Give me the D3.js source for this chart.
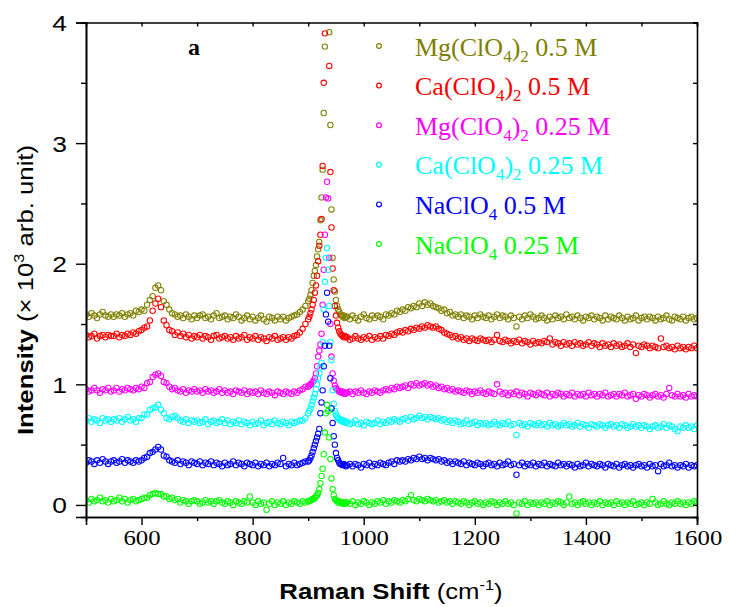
<!DOCTYPE html>
<html>
<head>
<meta charset="utf-8">
<script src="https://cdn.jsdelivr.net/npm/d3@7"></script>
<style>
  body { margin: 0; background: #fff; }
</style>
</head>
<body>
<svg id="chart" width="729" height="607"></svg>
<script>
// Raman shift sampling (cm^-1): 5 cm^-1 steps, 2 cm^-1 steps across the ClO4- band
const shift = [...d3.range(500, 901, 5), ...d3.range(902, 969, 2), ...d3.range(970, 1601, 5)];

// Intensities (x 10^3 arb. unit), one value per entry of `shift`
const mgClO4_05 = [
  1.58,1.56,1.59,1.57,1.55,1.58,1.60,1.57,1.56,1.58,
  1.56,1.58,1.57,1.59,1.56,1.58,1.59,1.57,1.61,1.60,
  1.62,1.61,1.66,1.70,1.73,1.80,1.82,1.78,1.69,1.66,
  1.62,1.59,1.58,1.56,1.57,1.55,1.58,1.56,1.54,1.57,
  1.55,1.57,1.58,1.55,1.56,1.54,1.57,1.59,1.55,1.56,
  1.57,1.54,1.56,1.55,1.58,1.56,1.53,1.55,1.57,1.54,
  1.56,1.53,1.55,1.57,1.54,1.52,1.56,1.55,1.53,1.56,
  1.54,1.56,1.53,1.55,1.56,1.57,1.58,1.60,1.62,1.65,
  1.69,
  1.71,1.74,1.78,1.84,1.90,1.94,1.99,2.06,2.12,2.18,
  2.36,2.55,2.78,3.25,3.80,4.40,4.70,4.30,3.92,3.15,
  2.45,2.05,1.87,1.77,1.70,1.65,1.62,1.60,1.58,1.57,
  1.56,1.57,1.55,1.56,
  1.56,1.54,1.57,1.55,1.53,1.56,1.58,1.55,1.54,1.57,
  1.55,1.57,1.56,1.54,1.58,1.57,1.59,1.58,1.61,1.60,
  1.62,1.61,1.64,1.63,1.65,1.64,1.67,1.65,1.68,1.66,
  1.67,1.65,1.64,1.63,1.61,1.62,1.59,1.60,1.57,1.58,
  1.56,1.58,1.55,1.57,1.56,1.54,1.57,1.55,1.58,1.56,
  1.55,1.57,1.54,1.56,1.58,1.55,1.57,1.56,1.54,1.57,
  1.55,1.48,1.56,1.54,1.57,1.55,1.58,1.56,1.54,1.55,
  1.57,1.55,1.53,1.56,1.54,1.57,1.55,1.56,1.54,1.58,
  1.55,1.56,1.54,1.57,1.55,1.53,1.56,1.55,1.57,1.54,
  1.56,1.55,1.53,1.57,1.54,1.56,1.55,1.54,1.57,1.55,
  1.53,1.56,1.54,1.55,1.57,1.53,1.55,1.56,1.54,1.56,
  1.55,1.53,1.56,1.54,1.55,1.57,1.54,1.53,1.56,1.55,
  1.54,1.56,1.53,1.55,1.56,1.54,1.55
];

const caClO4_05 = [
  1.41,1.39,1.40,1.42,1.38,1.40,1.41,1.39,1.41,1.40,
  1.40,1.42,1.39,1.41,1.40,1.42,1.41,1.43,1.42,1.44,
  1.45,1.47,1.48,1.53,1.61,1.67,1.71,1.64,1.53,1.49,
  1.45,1.44,1.41,1.43,1.40,1.42,1.39,1.41,1.38,1.40,
  1.39,1.41,1.38,1.40,1.39,1.37,1.40,1.41,1.38,1.39,
  1.40,1.38,1.39,1.37,1.40,1.38,1.39,1.41,1.37,1.39,
  1.38,1.40,1.37,1.39,1.38,1.36,1.39,1.38,1.40,1.37,
  1.38,1.39,1.37,1.39,1.38,1.40,1.41,1.43,1.46,1.50,
  1.54,
  1.56,1.59,1.62,1.66,1.70,1.76,1.82,1.90,2.02,2.15,
  2.24,2.37,2.81,3.50,3.91,4.50,4.80,4.20,3.64,2.76,
  2.30,1.96,1.78,1.65,1.57,1.51,1.47,1.44,1.42,1.41,
  1.40,1.39,1.40,1.39,
  1.39,1.37,1.38,1.40,1.38,1.37,1.39,1.38,1.40,1.37,
  1.39,1.38,1.40,1.38,1.41,1.40,1.42,1.41,1.43,1.44,
  1.43,1.45,1.44,1.46,1.45,1.47,1.46,1.48,1.47,1.49,
  1.48,1.47,1.48,1.46,1.45,1.43,1.42,1.41,1.39,1.40,
  1.38,1.39,1.37,1.38,1.36,1.38,1.37,1.36,1.38,1.37,
  1.36,1.37,1.35,1.37,1.41,1.36,1.35,1.37,1.36,1.34,
  1.36,1.35,1.37,1.34,1.36,1.35,1.33,1.36,1.34,1.35,
  1.34,1.36,1.35,1.38,1.33,1.35,1.34,1.32,1.35,1.33,
  1.34,1.32,1.35,1.33,1.34,1.32,1.33,1.35,1.32,1.34,
  1.33,1.31,1.34,1.32,1.33,1.31,1.34,1.32,1.33,1.31,
  1.32,1.34,1.31,1.33,1.26,1.32,1.31,1.33,1.32,1.30,
  1.32,1.31,1.30,1.38,1.31,1.32,1.30,1.31,1.29,1.32,
  1.30,1.31,1.29,1.31,1.30,1.32,1.30
];

const mgClO4_025 = [
  0.96,0.94,0.95,0.97,0.95,0.93,0.96,0.95,0.97,0.94,
  0.95,0.97,0.94,0.96,0.95,0.97,0.96,0.95,0.97,0.96,
  0.98,0.97,1.01,1.02,1.06,1.08,1.09,1.07,1.02,1.01,
  0.98,0.96,0.97,0.95,0.94,0.96,0.93,0.95,0.94,0.96,
  0.94,0.95,0.93,0.96,0.94,0.95,0.93,0.94,0.96,0.93,
  0.95,0.93,0.94,0.92,0.95,0.94,0.93,0.95,0.92,0.94,
  0.93,0.94,0.92,0.95,0.93,0.92,0.94,0.93,0.91,0.94,
  0.93,0.92,0.94,0.93,0.92,0.94,0.93,0.95,0.96,0.98,
  0.98,
  0.99,1.00,1.00,1.02,1.03,1.05,1.09,1.15,1.23,1.28,
  1.33,1.42,1.66,1.95,2.24,2.55,2.68,2.54,2.05,1.50,
  1.23,1.09,1.03,0.99,0.97,0.96,0.95,0.94,0.94,0.93,
  0.94,0.93,0.92,0.93,
  0.93,0.94,0.92,0.94,0.93,0.95,0.93,0.92,0.94,0.93,
  0.95,0.94,0.93,0.95,0.96,0.95,0.97,0.96,0.98,0.97,
  0.98,0.99,0.97,1.00,0.99,1.01,0.99,1.00,1.01,0.99,
  1.00,0.98,0.99,0.97,0.98,0.96,0.97,0.95,0.96,0.94,
  0.95,0.94,0.93,0.95,0.94,0.92,0.94,0.93,0.95,0.93,
  0.92,0.94,0.93,0.92,1.00,0.94,0.92,0.93,0.91,0.93,
  0.92,0.94,0.91,0.93,0.92,0.90,0.93,0.92,0.91,0.93,
  0.92,0.91,0.93,0.90,0.92,0.91,0.93,0.92,0.90,0.92,
  0.91,0.93,0.90,0.92,0.91,0.92,0.90,0.93,0.91,0.92,
  0.90,0.92,0.91,0.93,0.90,0.91,0.92,0.90,0.92,0.91,
  0.93,0.90,0.91,0.92,0.88,0.91,0.90,0.92,0.91,0.89,
  0.91,0.92,0.90,0.91,0.89,0.92,0.97,0.91,0.90,0.92,
  0.90,0.91,0.89,0.92,0.90,0.91,0.90
];

const caClO4_025 = [
  0.70,0.72,0.69,0.71,0.70,0.68,0.72,0.70,0.71,0.69,
  0.71,0.70,0.72,0.69,0.71,0.73,0.70,0.71,0.69,0.72,
  0.72,0.75,0.75,0.79,0.80,0.81,0.83,0.79,0.76,0.72,
  0.71,0.73,0.74,0.72,0.70,0.69,0.71,0.68,0.70,0.69,
  0.70,0.68,0.69,0.71,0.67,0.69,0.70,0.68,0.69,0.71,
  0.68,0.70,0.67,0.69,0.68,0.70,0.67,0.69,0.68,0.66,
  0.69,0.67,0.68,0.70,0.66,0.68,0.69,0.67,0.70,0.68,
  0.67,0.69,0.68,0.66,0.69,0.68,0.69,0.70,0.70,0.72,
  0.76,
  0.78,0.80,0.83,0.86,0.89,0.92,0.96,1.00,1.05,1.09,
  1.14,1.18,1.35,1.62,1.85,2.05,2.13,1.95,1.65,1.35,
  1.20,0.95,0.84,0.78,0.75,0.73,0.72,0.71,0.70,0.70,
  0.69,0.70,0.69,0.68,
  0.69,0.67,0.68,0.70,0.67,0.68,0.66,0.69,0.68,0.67,
  0.68,0.70,0.67,0.69,0.68,0.70,0.69,0.71,0.70,0.69,
  0.71,0.72,0.70,0.73,0.71,0.72,0.74,0.72,0.73,0.71,
  0.73,0.72,0.71,0.72,0.70,0.71,0.69,0.70,0.68,0.70,
  0.69,0.67,0.68,0.70,0.67,0.68,0.69,0.66,0.68,0.67,
  0.68,0.66,0.67,0.69,0.67,0.66,0.68,0.67,0.69,0.66,
  0.67,0.58,0.68,0.66,0.67,0.65,0.68,0.67,0.66,0.68,
  0.66,0.67,0.65,0.68,0.66,0.67,0.65,0.66,0.68,0.66,
  0.67,0.65,0.66,0.68,0.65,0.67,0.66,0.64,0.67,0.66,
  0.65,0.67,0.66,0.64,0.66,0.67,0.65,0.66,0.64,0.67,
  0.66,0.64,0.65,0.67,0.65,0.66,0.64,0.66,0.65,0.63,
  0.65,0.66,0.64,0.65,0.67,0.64,0.66,0.65,0.63,0.61,
  0.65,0.64,0.66,0.64,0.65,0.63,0.66
];

const naClO4_05 = [
  0.35,0.37,0.36,0.34,0.37,0.35,0.38,0.36,0.34,0.36,
  0.37,0.35,0.36,0.38,0.35,0.37,0.36,0.35,0.37,0.36,
  0.37,0.39,0.40,0.43,0.44,0.46,0.48,0.46,0.41,0.40,
  0.37,0.36,0.35,0.37,0.34,0.36,0.35,0.33,0.36,0.35,
  0.34,0.36,0.33,0.35,0.34,0.36,0.33,0.35,0.34,0.32,
  0.35,0.33,0.34,0.36,0.33,0.35,0.34,0.32,0.35,0.34,
  0.33,0.35,0.32,0.34,0.33,0.35,0.32,0.34,0.33,0.35,
  0.34,0.39,0.32,0.34,0.33,0.35,0.33,0.34,0.35,0.36,
  0.36,
  0.37,0.39,0.41,0.44,0.47,0.50,0.53,0.56,0.59,0.63,
  0.76,0.85,0.95,1.15,1.32,1.58,1.76,1.52,1.32,1.05,
  0.80,0.68,0.57,0.50,0.43,0.39,0.37,0.35,0.34,0.34,
  0.33,0.34,0.33,0.32,
  0.33,0.34,0.32,0.34,0.33,0.31,0.34,0.33,0.35,0.32,
  0.34,0.33,0.35,0.34,0.33,0.35,0.36,0.34,0.37,0.36,
  0.37,0.36,0.38,0.37,0.39,0.38,0.40,0.38,0.39,0.37,
  0.39,0.38,0.37,0.38,0.36,0.37,0.35,0.36,0.34,0.36,
  0.35,0.34,0.36,0.33,0.35,0.34,0.33,0.35,0.34,0.32,
  0.34,0.35,0.33,0.34,0.32,0.35,0.33,0.34,0.36,0.33,
  0.34,0.25,0.33,0.35,0.32,0.34,0.33,0.35,0.32,0.34,
  0.33,0.35,0.32,0.34,0.33,0.32,0.35,0.33,0.34,0.32,
  0.34,0.33,0.31,0.34,0.32,0.33,0.35,0.32,0.34,0.33,
  0.32,0.34,0.33,0.31,0.34,0.33,0.32,0.34,0.31,0.33,
  0.34,0.32,0.33,0.31,0.33,0.34,0.32,0.33,0.31,0.34,
  0.32,0.33,0.28,0.34,0.32,0.33,0.35,0.32,0.33,0.31,
  0.33,0.32,0.34,0.31,0.33,0.32,0.33
];

const naClO4_025 = [
  0.04,0.02,0.05,0.03,0.04,0.06,0.03,0.04,0.02,0.05,
  0.03,0.04,0.06,0.03,0.05,0.02,0.04,0.05,0.03,0.04,
  0.05,0.06,0.06,0.08,0.09,0.10,0.09,0.09,0.07,0.07,
  0.05,0.06,0.04,0.05,0.02,0.04,0.03,0.01,0.03,0.04,
  0.03,0.01,0.02,0.04,0.02,0.03,0.01,0.03,0.04,0.02,
  0.01,0.03,0.02,0.00,0.03,0.02,0.01,0.03,0.02,0.07,
  0.02,0.00,0.03,0.01,0.02,-0.04,0.01,0.03,0.00,0.02,
  0.01,0.03,0.00,0.02,0.01,0.03,0.02,0.01,0.03,0.02,
  0.03,
  0.03,0.04,0.04,0.05,0.05,0.06,0.07,0.08,0.10,0.13,
  0.18,0.24,0.30,0.42,0.60,0.76,0.83,0.78,0.56,0.38,
  0.22,0.13,0.08,0.05,0.04,0.03,0.02,0.03,0.02,0.02,
  0.01,0.02,0.01,0.02,
  0.02,0.01,0.03,0.00,0.02,0.01,0.03,0.02,0.00,0.02,
  0.01,0.03,0.02,0.04,0.01,0.03,0.02,0.04,0.03,0.02,
  0.04,0.03,0.05,0.08,0.04,0.03,0.05,0.04,0.03,0.05,
  0.04,0.03,0.04,0.02,0.03,0.04,0.02,0.03,0.01,0.03,
  0.02,0.01,0.03,0.02,0.00,0.02,0.03,0.01,0.02,0.00,
  0.02,0.01,0.03,0.02,0.00,0.02,0.01,0.03,0.01,0.02,
  0.00,-0.07,0.02,0.01,0.03,0.00,0.02,0.01,0.02,0.00,
  0.02,0.01,0.03,0.00,0.02,0.01,0.03,0.02,0.00,0.02,
  0.07,0.01,0.02,0.00,0.02,0.03,0.01,0.02,0.00,0.02,
  0.01,0.03,0.00,0.02,0.01,0.02,0.00,0.03,0.01,0.02,
  0.00,0.02,0.01,0.03,0.00,0.01,0.02,0.00,0.02,0.01,
  0.05,0.02,0.00,0.01,0.03,0.01,0.00,0.02,0.01,0.03,
  0.01,0.02,0.00,0.02,0.01,0.03,0.02
];

const seriesNames = ["Mg(ClO4)2 0.5 M", "Ca(ClO4)2 0.5 M", "Mg(ClO4)2 0.25 M",
                     "Ca(ClO4)2 0.25 M", "NaClO4 0.5 M", "NaClO4 0.25 M"];
const seriesColors = ["#808000", "#ff0000", "#ff00ff", "#00ffff", "#0000ff", "#00ff00"];
const seriesValues = [mgClO4_05, caClO4_05, mgClO4_025, caClO4_025, naClO4_05, naClO4_025];

const xMajor = [600, 800, 1000, 1200, 1400, 1600];
const xMinor = [700, 900, 1100, 1300, 1500];
const yMajor = [0, 1, 2, 3, 4];
const yMinor = [0.5, 1.5, 2.5, 3.5];

const svg = d3.select("#chart");
const W = 729, H = 607;
const m = { left: 86, right: 697, top: 22.5, bottom: 517 };

const x = d3.scaleLinear().domain([500, 1600]).range([m.left, m.right]);
const y = d3.scaleLinear().domain([-0.1, 4]).range([m.bottom, m.top]);

svg.append("rect").attr("width", W).attr("height", H).attr("fill", "#fff");

svg.append("clipPath").attr("id", "plot-clip")
  .append("rect")
  .attr("x", m.left).attr("y", m.top)
  .attr("width", m.right - m.left).attr("height", m.bottom - m.top);

// Spectra: open circles
const plot = svg.append("g").attr("clip-path", "url(#plot-clip)");
seriesValues.forEach((vals, k) => {
  plot.append("g")
    .selectAll("circle")
    .data(vals.map((v, i) => [shift[i], v]))
    .join("circle")
    .attr("cx", d => x(d[0]))
    .attr("cy", d => y(d[1]))
    .attr("r", 2.7)
    .attr("fill", "none")
    .attr("stroke", seriesColors[k])
    .attr("stroke-width", 1.05);
});

// Axes
const axisStyle = g => {
  g.select(".domain").attr("stroke", "#000").attr("stroke-width", 1.6);
  g.selectAll(".tick line").attr("stroke", "#000").attr("stroke-width", 1.4);
};

const tickFontX = "'Liberation Serif', 'Times New Roman', serif";
const tickFontY = "'Liberation Sans', Arial, sans-serif";

// bottom
svg.append("g").attr("transform", `translate(0,${m.bottom})`)
  .call(d3.axisBottom(x).tickValues(xMinor).tickSize(4).tickFormat(""))
  .call(axisStyle);
const gx = svg.append("g").attr("transform", `translate(0,${m.bottom})`)
  .call(d3.axisBottom(x).tickValues(xMajor).tickSize(8).tickPadding(4).tickFormat(d3.format("d")))
  .call(axisStyle);
gx.selectAll(".tick text")
  .attr("font-family", tickFontX).attr("font-size", 21).attr("fill", "#000")
  .attr("y", 13).attr("dy", "0.71em")
  .attr("transform", "scale(1.18,1)");

// top
svg.append("g").attr("transform", `translate(0,${m.top})`)
  .call(d3.axisTop(x).tickValues(xMinor.concat(xMajor)).tickSize(-4).tickFormat(""))
  .call(axisStyle);

// left
svg.append("g").attr("transform", `translate(${m.left},0)`)
  .call(d3.axisLeft(y).tickValues(yMinor).tickSize(5).tickFormat(""))
  .call(axisStyle);
const gy = svg.append("g").attr("transform", `translate(${m.left},0)`)
  .call(d3.axisLeft(y).tickValues(yMajor).tickSize(10).tickFormat(d3.format("d")))
  .call(axisStyle);
gy.selectAll(".tick text")
  .attr("font-family", tickFontY).attr("font-size", 22).attr("fill", "#000")
  .attr("x", -19 / 1.2).attr("dy", "0.36em")
  .attr("transform", "scale(1.2,1)");

// right
svg.append("g").attr("transform", `translate(${m.right},0)`)
  .call(d3.axisRight(y).tickValues(yMajor.concat(yMinor)).tickSize(-4).tickFormat(""))
  .call(axisStyle);

// Axis titles
const sansFont = "'Liberation Sans', Arial, sans-serif";
const xt = svg.append("g").attr("transform", `translate(391,599) scale(1.17,1)`)
  .append("text").attr("text-anchor", "middle")
  .attr("font-family", sansFont).attr("font-size", 22).attr("fill", "#000");
xt.append("tspan").attr("font-weight", "bold").text("Raman Shift");
xt.append("tspan").text(" (cm");
xt.append("tspan").attr("font-size", 14).attr("dy", -9).text("-1");
xt.append("tspan").attr("dy", 9).text(")");

const yt = svg.append("g").attr("transform", `translate(33,290) rotate(-90) scale(1.17,1)`)
  .append("text").attr("text-anchor", "middle")
  .attr("font-family", sansFont).attr("font-size", 22).attr("fill", "#000");
yt.append("tspan").attr("font-weight", "bold").text("Intensity");
yt.append("tspan").text(" (× 10");
yt.append("tspan").attr("font-size", 14).attr("dy", -9).text("3");
yt.append("tspan").attr("dy", 9).text(" arb. unit)");

// Panel label
svg.append("text")
  .attr("x", 194).attr("y", 55).attr("text-anchor", "middle")
  .attr("font-family", tickFontX).attr("font-weight", "bold")
  .attr("font-size", 24).attr("fill", "#000")
  .text("a");

// Legend
const legend = svg.append("g");
seriesNames.forEach((name, k) => {
  const cy = 46 + k * 39.6;
  const col = seriesColors[k];
  legend.append("circle")
    .attr("cx", 379).attr("cy", cy).attr("r", 2.4)
    .attr("fill", "none").attr("stroke", col).attr("stroke-width", 1.2);
  const t = legend.append("text")
    .attr("x", 415).attr("y", cy + 9.5)
    .attr("font-family", tickFontX).attr("font-size", 26).attr("fill", col);
  // digits right after "O" or ")" in the formula are subscripts
  const parts = [];
  const formula = name.split(" ")[0];
  const rest = name.slice(formula.length);
  let buf = "";
  for (let i = 0; i < formula.length; i++) {
    const ch = formula[i];
    const prev = formula[i - 1];
    if (/\d/.test(ch) && (prev === "O" || prev === ")")) {
      if (buf) parts.push({ t: buf, sub: false });
      buf = "";
      parts.push({ t: ch, sub: true });
    } else {
      buf += ch;
    }
  }
  if (buf) parts.push({ t: buf, sub: false });
  parts.push({ t: rest, sub: false });
  let lowered = false;
  parts.forEach(p => {
    const ts = t.append("tspan").text(p.t);
    if (p.sub) {
      ts.attr("font-size", 17).attr("dy", lowered ? 0 : 6);
      lowered = true;
    } else if (lowered) {
      ts.attr("dy", -6);
      lowered = false;
    }
  });
});
</script>
</body>
</html>
